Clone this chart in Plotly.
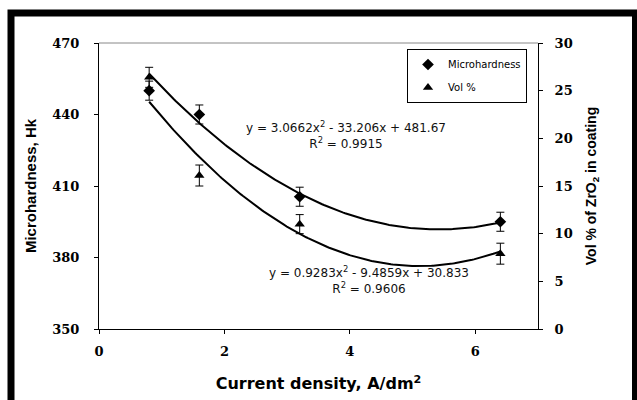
import numpy as np
import plotly.graph_objects as go

# ---- data ----
current = [0.8, 1.6, 3.2, 6.4]
hardness = [450, 440, 405.5, 395]
hardness_err = [4, 4, 4, 4]
vol_pct = [26.4, 16.1, 11.0, 7.9]
vol_err = [1.05, 1.1, 1.0, 1.1]

# polynomial trendlines printed on the chart (a*x^2 + b*x + c)
hard_fit = [3.0662, -33.206, 481.67]
hard_r2 = 0.9915
vol_fit = [0.9283, -9.4859, 30.833]
vol_r2 = 0.9606

x_ticks = [0, 2, 4, 6]
y1_ticks = [350, 380, 410, 440, 470]
y2_ticks = [0, 5, 10, 15, 20, 25, 30]

# ---- figure ----
W, H = 637, 400
L, R, T, B = 99, 538, 43, 329  # plot area in pixels


def px(x):
    return (x - L) / (R - L)


def py(y):
    return (B - y) / (B - T)


xs = np.linspace(min(current), max(current), 200)
hard_curve = np.polyval(hard_fit, xs)
vol_curve = np.polyval(vol_fit, xs)

fig = go.Figure()

fig.add_trace(go.Scatter(x=xs, y=hard_curve, mode="lines",
                         line=dict(color="black", width=2),
                         showlegend=False, hoverinfo="skip"))
fig.add_trace(go.Scatter(x=xs, y=vol_curve, mode="lines", yaxis="y2",
                         line=dict(color="black", width=2),
                         showlegend=False, hoverinfo="skip"))

fig.add_trace(go.Scatter(
    x=current, y=hardness, mode="markers", name="Microhardness",
    legendgroup="a",
    marker=dict(symbol="diamond", size=9, color="black"),
    error_y=dict(type="data", array=hardness_err, color="black",
                 thickness=1, width=4)))
fig.add_trace(go.Scatter(
    x=current, y=vol_pct, mode="markers", name="Vol %", yaxis="y2",
    legendgroup="b",
    marker=dict(symbol="triangle-up", size=9, color="black"),
    error_y=dict(type="data", array=vol_err, color="black",
                 thickness=1, width=4)))


def eq_text(c, r2):
    b = c[1]
    sign_b = "-" if b < 0 else "+"
    sign_c = "-" if c[2] < 0 else "+"
    return (f"y = {c[0]:g}x<sup>2</sup> {sign_b} {abs(b):g}x "
            f"{sign_c} {abs(c[2]):g}<br>R<sup>2</sup> = {r2}")


ann_font = dict(family="DejaVu Sans", size=12, color="#111")
fig.add_annotation(text=eq_text(hard_fit, hard_r2), x=px(346), y=py(135),
                   xref="paper", yref="paper", showarrow=False,
                   xanchor="center", yanchor="middle",
                   font=ann_font, align="center")
fig.add_annotation(text=eq_text(vol_fit, vol_r2), x=px(369), y=py(280),
                   xref="paper", yref="paper", showarrow=False,
                   xanchor="center", yanchor="middle",
                   font=ann_font, align="center")

tick_font = dict(family="DejaVu Serif", size=13, color="black",
                 weight="bold")
title_font = dict(family="Liberation Sans, Arial", size=15,
                  color="black", weight="bold")

fig.update_layout(
    width=W, height=H,
    margin=dict(l=L, r=W - R, t=T, b=H - B, autoexpand=False),
    paper_bgcolor="white", plot_bgcolor="white",
    xaxis=dict(range=[0, 7], tickvals=x_ticks, showgrid=False, zeroline=False,
               showline=True, linecolor="black", linewidth=1,
               ticks="outside", ticklen=4, tickcolor="black",
               tickfont=tick_font, ticklabelstandoff=6,
               title=dict(text="Current density, A/dm<sup>2</sup>",
                          font=dict(family="DejaVu Sans", size=16,
                                    color="black", weight="bold"),
                          standoff=20)),
    yaxis=dict(range=[350, 470], tickvals=y1_ticks, showgrid=False,
               zeroline=False, showline=True, linecolor="black", linewidth=1,
               ticks="outside", ticklen=4, tickcolor="black",
               tickfont=tick_font, ticklabelstandoff=12,
               title=dict(text="Microhardness, Hk", font=title_font,
                          standoff=12)),
    yaxis2=dict(range=[0, 30], tickvals=y2_ticks, overlaying="y",
                side="right", showgrid=False, zeroline=False, showline=True,
                linecolor="black", linewidth=1, ticks="outside", ticklen=4,
                tickcolor="black", tickfont=tick_font, ticklabelstandoff=9,
                title=dict(text="Vol % of ZrO<sub>2</sub> in coating",
                           font=dict(family="Liberation Sans, Arial",
                                     size=14, color="black", weight="bold"),
                           standoff=14)),
    legend=dict(x=px(407), y=py(49), xanchor="left", yanchor="top",
                bgcolor="white", bordercolor="black", borderwidth=1,
                font=dict(family="DejaVu Sans", size=10, color="black"),
                tracegroupgap=4, itemwidth=30),
    shapes=[
        dict(type="line", xref="paper", yref="paper", x0=0, x1=1, y0=1, y1=1,
             line=dict(color="#888", width=1)),
        dict(type="rect", xref="paper", yref="paper",
             x0=px(11), x1=px(635.5), y0=py(13), y1=py(410),
             line=dict(color="black", width=7), layer="above"),
    ],
    showlegend=True,
)

fig.write_html("out.html",
               config={"displayModeBar": False},
               post_script="document.body.style.margin='0';"
                           "document.body.style.overflow='hidden';")
